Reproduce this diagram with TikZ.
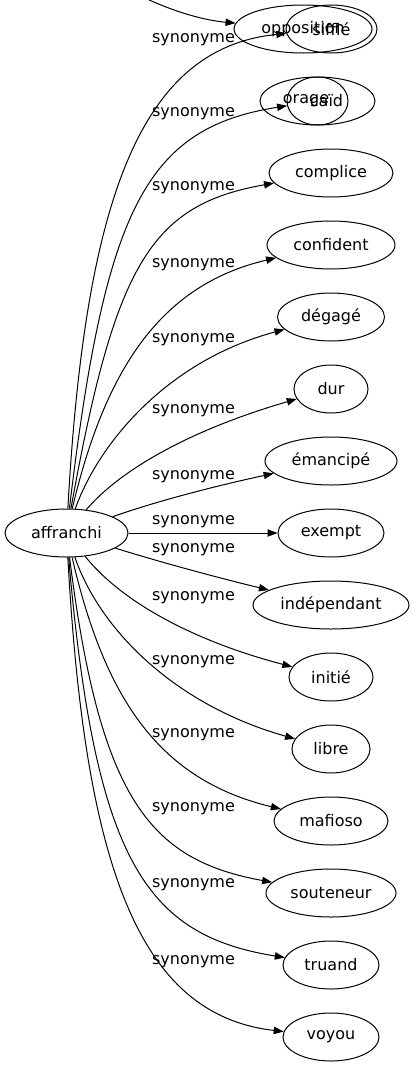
\documentclass[tikz,border=0pt]{standalone}
\usepackage{fontspec}
\setmainfont{DejaVu Sans}
\usetikzlibrary{shapes.geometric,arrows.meta}
\begin{document}
\begin{tikzpicture}[x=0.75pt,y=-0.75pt,
  gnode/.style={draw, ellipse, inner sep=0pt, minimum height=36pt, line width=0.75pt, font=\fontsize{12pt}{14pt}\selectfont},
  txt/.style={inner sep=0pt, font=\fontsize{12pt}{14pt}\selectfont},
  lbl/.style={inner sep=0pt, font=\fontsize{12pt}{14pt}\selectfont},
  syn/.style={draw, line width=0.75pt, -{Triangle[length=7.5pt,width=5.5pt]}}]
\useasboundingbox (0,0) rectangle (415,1067);
\clip (0,0) rectangle (415,1067);

% nodes
\node[gnode, minimum width=92.25pt] (aff) at (66.5,533) {affranchi};
\node[gnode, minimum width=103.5pt] (opp) at (303,29) {opposition};
\node[gnode, minimum width=68.25pt] (siffle) at (331.5,29) {sifflé};
\node[gnode, minimum width=86.25pt] (orage) at (317.5,101) {};
\node[gnode, minimum width=45.75pt] (caid) at (317.5,101) {};
\node[txt] (oraget) at (306,101) {orage};
\node[txt] (caidt) at (326.5,101) {caïd};
\node[gnode, minimum width=93pt] (complice) at (331,173) {complice};
\node[gnode, minimum width=96pt] (confident) at (331,245) {confident};
\node[gnode, minimum width=80.25pt] (degage) at (331,317) {dégagé};
\node[gnode, minimum width=55.5pt] (dur) at (331,389) {dur};
\node[gnode, minimum width=99pt] (emancipe) at (331,461) {émancipé};
\node[gnode, minimum width=79.5pt] (exempt) at (331,533) {exempt};
\node[gnode, minimum width=117pt] (indep) at (331,605) {indépendant};
\node[gnode, minimum width=63pt] (initie) at (331,677) {initié};
\node[gnode, minimum width=58.5pt] (libre) at (331,749) {libre};
\node[gnode, minimum width=85.5pt] (mafioso) at (331,821) {mafioso};
\node[gnode, minimum width=97.5pt] (souteneur) at (331,893) {souteneur};
\node[gnode, minimum width=72pt] (truand) at (331,965) {truand};
\node[gnode, minimum width=72pt] (voyou) at (331,1037) {voyou};

% labels
\node[lbl] (l1) at (193.5,40) {synonyme};
\node[lbl] (l2) at (193.5,114) {synonyme};
\node[lbl] (l3) at (193.5,188) {synonyme};
\node[lbl] (l4) at (193.5,265) {synonyme};
\node[lbl] (l5) at (193.5,340) {synonyme};
\node[lbl] (l6) at (193.5,411) {synonyme};
\node[lbl] (l7) at (193.5,477) {synonyme};
\node[lbl] (l8) at (193.5,522) {synonyme};
\node[lbl] (l9) at (193.5,550) {synonyme};
\node[lbl] (l10) at (193.5,598) {synonyme};
\node[lbl] (l11) at (193.5,662) {synonyme};
\node[lbl] (l12) at (193.5,735) {synonyme};
\node[lbl] (l13) at (193.5,809) {synonyme};
\node[lbl] (l14) at (193.5,885) {synonyme};
\node[lbl] (l15) at (193.5,962) {synonyme};

% incoming edge from outside
\coordinate (offtop) at (120,-15);
\draw[syn] (offtop) .. controls (160,8) and (200,20) .. (opp);

% edges
\draw[syn] (aff) .. controls (85,200) and (140,48) .. (siffle);
\draw[syn] (aff) .. controls (105,210) and (145,128) .. (caid);
\draw[syn] (aff) .. controls (115,265) and (150,205) .. (complice);
\draw[syn] (aff) .. controls (105,370) and (160,285) .. (confident);
\draw[syn] (aff) .. controls (100,440) and (170,360) .. (degage);
\draw[syn] (aff) .. controls (120,470) and (190,430) .. (dur);
\draw[syn] (aff) .. controls (160,500) and (220,485) .. (emancipe);
\draw[syn] (aff) -- (exempt);
\draw[syn] (aff) .. controls (160,562) and (215,577) .. (indep);
\draw[syn] (aff) .. controls (120,600) and (190,640) .. (initie);
\draw[syn] (aff) .. controls (100,630) and (175,705) .. (libre);
\draw[syn] (aff) .. controls (105,700) and (160,780) .. (mafioso);
\draw[syn] (aff) .. controls (100,800) and (150,860) .. (souteneur);
\draw[syn] (aff) .. controls (95,860) and (145,935) .. (truand);
\draw[syn] (aff) .. controls (85,870) and (140,1015) .. (voyou);
\end{tikzpicture}
\end{document}
